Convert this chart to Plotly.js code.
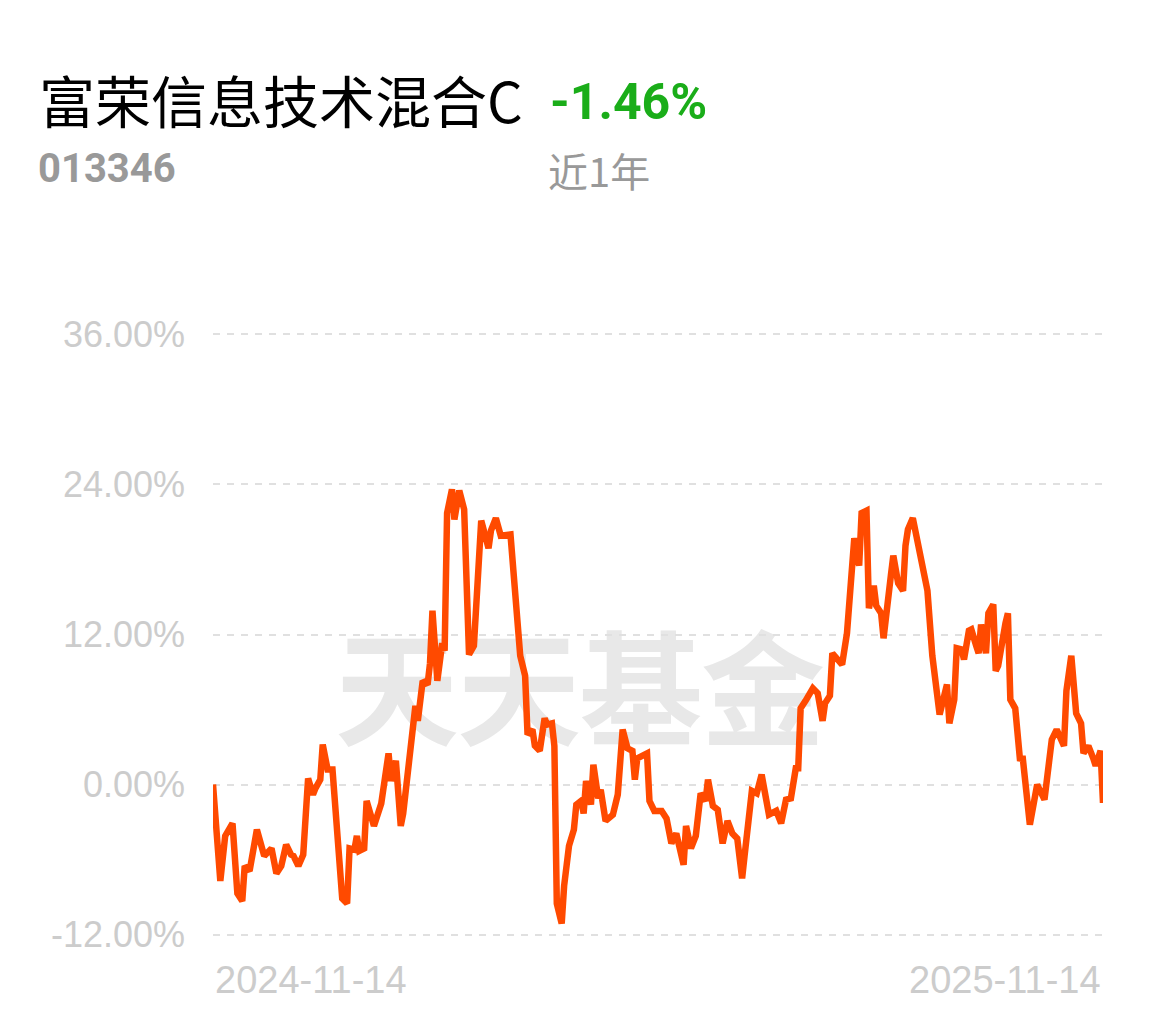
<!DOCTYPE html>
<html>
<head>
<meta charset="utf-8">
<script src="https://cdn.plot.ly/plotly-3.0.1.min.js"></script>
<style>
  html, body { margin: 0; padding: 0; background: #ffffff; }
  #wrap { position: relative; width: 1159px; height: 1022px; overflow: hidden; }
  #wm { position: absolute; left: 335px; top: 612px; width: 500px; font-family: "Noto Sans CJK SC", sans-serif; font-weight: 700; font-size: 124px; line-height: 140px; color: #e8e8e8; letter-spacing: -2px; white-space: nowrap; }
  #chart { position: absolute; left: 0; top: 0; width: 1159px; height: 1022px; }
</style>
</head>
<body>
<div id="wrap">
  <div id="wm">天天基金</div>
  <div id="chart"></div>
</div>
<script>
const fundName = "富荣信息技术混合C";
const fundCode = "013346";
const periodLabel = "近1年";
const periodReturn = "-1.46%";
const yTicks = [-12, 0, 12, 24, 36];
const yTickText = ["-12.00%", "0.00%", "12.00%", "24.00%", "36.00%"];
const startLabel = "2024-11-14";
const endLabel = "2025-11-14";

const dates = [
"2024-11-14","2024-11-17","2024-11-19","2024-11-22","2024-11-24","2024-11-26","2024-11-27","2024-11-29",
"2024-12-02","2024-12-05","2024-12-08","2024-12-10","2024-12-12","2024-12-14","2024-12-16","2024-12-17",
"2024-12-19","2024-12-21","2024-12-23","2024-12-25","2024-12-26","2024-12-28","2024-12-29","2024-12-31",
"2025-01-02","2025-01-06","2025-01-08","2025-01-09","2025-01-11","2025-01-12","2025-01-13","2025-01-15",
"2025-01-16","2025-01-19","2025-01-22","2025-01-25","2025-01-26","2025-01-28","2025-01-30","2025-01-31",
"2025-02-05","2025-02-06","2025-02-08","2025-02-10","2025-02-11","2025-02-12","2025-02-14","2025-02-16",
"2025-02-17","2025-02-18","2025-02-20","2025-02-21","2025-02-23","2025-02-25","2025-02-27","2025-03-01",
"2025-03-04","2025-03-07","2025-03-08","2025-03-10","2025-03-12","2025-03-14","2025-03-16","2025-03-20",
"2025-03-22","2025-03-23","2025-03-25","2025-03-26","2025-03-28","2025-03-30","2025-03-31","2025-04-02",
"2025-04-03","2025-04-04","2025-04-06","2025-04-07","2025-04-09","2025-04-11","2025-04-12","2025-04-14",
"2025-04-15","2025-04-16","2025-04-18","2025-04-19","2025-04-21","2025-04-22","2025-04-24","2025-04-27",
"2025-04-29","2025-05-01","2025-05-03","2025-05-05","2025-05-06","2025-05-07","2025-05-09","2025-05-11",
"2025-05-12","2025-05-14","2025-05-17","2025-05-19","2025-05-21","2025-05-23","2025-05-26","2025-05-27",
"2025-05-29","2025-05-31","2025-06-02","2025-06-04","2025-06-05","2025-06-07","2025-06-09","2025-06-11",
"2025-06-13","2025-06-15","2025-06-17","2025-06-19","2025-06-20","2025-06-23","2025-06-25","2025-06-27",
"2025-06-30","2025-07-03","2025-07-05","2025-07-07","2025-07-09","2025-07-11","2025-07-12","2025-07-13",
"2025-07-15","2025-07-18","2025-07-20","2025-07-22","2025-07-23","2025-07-25","2025-07-26","2025-07-28",
"2025-07-30","2025-08-01","2025-08-03","2025-08-04","2025-08-06","2025-08-07","2025-08-09","2025-08-10",
"2025-08-12","2025-08-13","2025-08-15","2025-08-16","2025-08-19","2025-08-20","2025-08-22","2025-08-24",
"2025-08-25","2025-08-26","2025-08-28","2025-08-30","2025-08-31","2025-09-02","2025-09-03","2025-09-05",
"2025-09-08","2025-09-11","2025-09-12","2025-09-14","2025-09-15","2025-09-17","2025-09-18","2025-09-20",
"2025-09-21","2025-09-23","2025-09-24","2025-09-25","2025-09-27","2025-09-28","2025-09-30","2025-10-01",
"2025-10-02","2025-10-05","2025-10-06","2025-10-07","2025-10-09","2025-10-11","2025-10-12","2025-10-15",
"2025-10-18","2025-10-21","2025-10-24","2025-10-26","2025-10-27","2025-10-29","2025-10-30","2025-11-01",
"2025-11-03","2025-11-05","2025-11-06","2025-11-08","2025-11-10","2025-11-11","2025-11-13","2025-11-14"
];

const returns = [
0.0,-7.7,-4.1,-3.1,-8.7,-9.3,-6.5,-6.9,
-3.6,-5.7,-5.1,-7.1,-6.5,-4.8,-5.6,-5.7,
-6.5,-5.6,0.5,-0.8,-0.3,0.4,3.2,1.2,
1.2,-9.1,-9.5,-5.1,-5.2,-4.1,-5.3,-5.1,
-1.3,-3.3,-1.5,2.5,0.3,1.9,-3.3,-2.3,
6.3,5.1,8.3,8.0,9.7,13.9,8.3,11.3,
10.7,21.7,23.6,21.2,23.5,22.0,10.4,11.1,
21.1,18.9,20.3,21.3,19.9,20.0,20.0,10.3,
8.7,4.0,4.4,3.1,2.7,5.3,4.8,4.9,
3.1,-9.5,-11.1,-8.1,-4.9,-3.6,-1.6,-1.3,
-2.3,0.3,-1.6,1.6,-1.1,-0.4,-2.9,-2.4,
-0.8,4.4,2.9,2.7,0.4,2.1,2.3,2.5,
-1.3,-2.1,-2.1,-2.7,-4.7,-3.9,-6.4,-3.3,
-5.1,-4.1,-0.7,-1.3,0.4,-1.7,-2.0,-4.7,
-2.9,-3.9,-4.3,-7.5,-5.7,-0.5,-0.7,0.8,
-2.4,-2.1,-3.1,-1.2,-1.1,1.3,1.3,6.1,
6.7,7.7,7.3,5.1,6.5,7.1,10.5,10.0,
9.6,12.1,17.2,19.7,17.5,21.7,21.9,14.1,
15.9,14.3,13.7,11.7,16.7,18.3,16.1,15.5,
19.1,20.4,21.3,19.2,18.5,16.3,15.5,10.3,
5.6,8.0,4.9,6.8,10.9,10.8,10.0,12.3,
12.4,11.1,10.5,12.8,10.5,13.7,14.4,9.1,
9.5,12.9,13.7,6.8,6.1,1.9,2.3,-3.2,
0.0,-1.2,3.6,4.4,3.9,3.1,7.5,10.3,
5.7,4.9,2.5,3.1,2.1,1.5,2.7,-1.46
];

const plotL = 213, plotR = 56, plotT = 333, plotB = 86;
const plotW = 1159 - plotL - plotR, plotH = 1022 - plotT - plotB;
function px(xPix) { return (xPix - plotL) / plotW; }
function py(yPix) { return (1022 - plotB - yPix) / plotH; }

const trace = {
  x: dates,
  y: returns,
  type: "scatter",
  mode: "lines",
  line: { color: "#ff4a00", width: 6.5, shape: "linear" },
  hoverinfo: "skip"
};

const layout = {
  width: 1159,
  height: 1022,
  margin: { l: plotL, r: plotR, t: plotT, b: plotB, pad: 0 },
  paper_bgcolor: "rgba(0,0,0,0)",
  plot_bgcolor: "rgba(0,0,0,0)",
  showlegend: false,
  xaxis: {
    type: "date",
    range: [dates[0], dates[dates.length - 1]],
    showgrid: false,
    zeroline: false,
    showline: false,
    showticklabels: false,
    ticks: "",
    fixedrange: true
  },
  yaxis: {
    range: [yTicks[0] - 0.1, yTicks[yTicks.length - 1] + 0.1],
    tickmode: "array",
    tickvals: yTicks,
    ticktext: yTickText,
    showgrid: true,
    gridcolor: "#e0e0e0",
    gridwidth: 2,
    griddash: "7px,7px",
    zeroline: false,
    showline: false,
    ticks: "",
    ticklabelstandoff: 27,
    tickfont: { family: "Arial, 'Liberation Sans', sans-serif", size: 36, color: "#cccccc" },
    fixedrange: true
  },
  annotations: [
    { xref: "paper", yref: "paper", x: px(37), y: py(98), xanchor: "left", yanchor: "middle",
      text: fundName, showarrow: false,
      font: { family: "'Noto Sans CJK SC', sans-serif", size: 56, color: "#000000" } },
    { xref: "paper", yref: "paper", x: px(548), y: py(102), xanchor: "left", yanchor: "middle",
      text: "<b>" + periodReturn + "</b>", showarrow: false,
      font: { family: "Roboto, Arial, sans-serif", size: 50, color: "#1aad19" } },
    { xref: "paper", yref: "paper", x: px(36), y: py(168), xanchor: "left", yanchor: "middle",
      text: "<b>" + fundCode + "</b>", showarrow: false,
      font: { family: "Roboto, Arial, sans-serif", size: 40, color: "#999999" } },
    { xref: "paper", yref: "paper", x: px(546), y: py(170), xanchor: "left", yanchor: "middle",
      text: periodLabel, showarrow: false,
      font: { family: "'Noto Sans CJK SC', sans-serif", size: 40, color: "#999999" } },
    { xref: "x", yref: "paper", x: dates[0], y: py(980), xanchor: "left", yanchor: "middle",
      text: startLabel, showarrow: false,
      font: { family: "Arial, 'Liberation Sans', sans-serif", size: 38, color: "#cccccc" } },
    { xref: "x", yref: "paper", x: dates[dates.length - 1], y: py(980), xanchor: "right", yanchor: "middle",
      text: endLabel, showarrow: false,
      font: { family: "Arial, 'Liberation Sans', sans-serif", size: 38, color: "#cccccc" } }
  ]
};

Plotly.newPlot("chart", [trace], layout, { displayModeBar: false, staticPlot: true });
</script>
</body>
</html>
